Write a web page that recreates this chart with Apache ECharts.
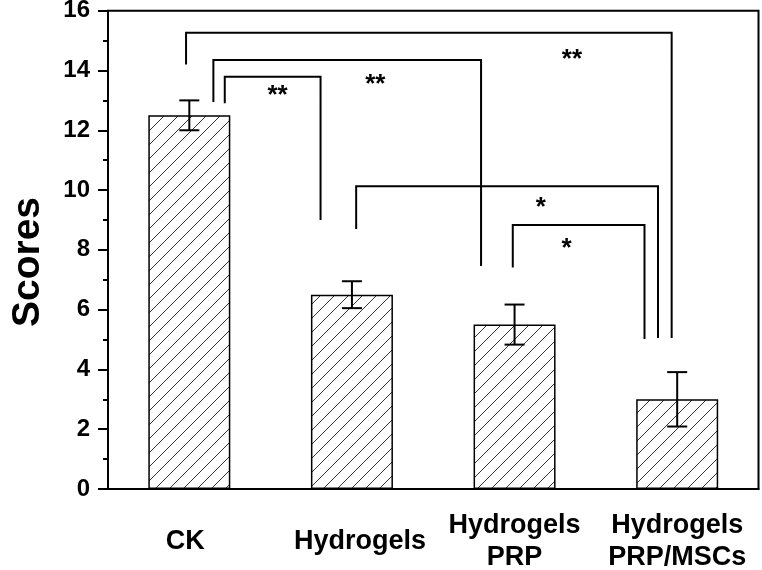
<!DOCTYPE html>
<html>
<head>
<meta charset="utf-8">
<script src="https://cdn.jsdelivr.net/npm/echarts@6/dist/echarts.min.js"></script>
<style>html,body{margin:0;padding:0;background:#fff;}#c{width:762px;height:570px;}</style>
</head>
<body>
<div id="c"></div>
<script>
// ---- data ----
const categories = ['CK', 'Hydrogels', 'Hydrogels\nPRP', 'Hydrogels\nPRP/MSCs'];
const scores = [12.5, 6.5, 5.5, 3.0];
const errors = [0.5, 0.45, 0.67, 0.91];
const yMin = 0, yMax = 16, yStep = 2;
// brackets: [xLeft, xRight, yTop, yLeftEnd, yRightEnd] (x in category index units)
const brackets = [
  [-0.02, 2.966, 15.26, 14.20, 5.05],
  [0.148, 1.794, 14.35, 12.95, 7.46],
  [0.218, 0.807, 13.79, 12.90, 9.00],
  [1.026, 2.882, 10.13, 8.70, 5.05],
  [1.989, 2.799, 8.83, 7.41, 5.02]
];
const sigLabels = ['**', '**', '**', '*', '*'];
const sigPos = [[0.543, 13.34], [1.144, 13.71], [2.353, 14.57], [2.161, 9.61], [2.320, 8.22]];

const FONT = '"Liberation Sans", Arial, Helvetica, sans-serif';

// hatch pattern
function hatch() {
  const s = 14;
  const c = document.createElement('canvas');
  c.width = s; c.height = s;
  const g = c.getContext('2d');
  g.fillStyle = '#fff'; g.fillRect(0, 0, s, s);
  g.strokeStyle = '#333'; g.lineWidth = 1;
  g.beginPath();
  g.moveTo(-2, s + 2); g.lineTo(s + 2, -2);
  g.moveTo(-2 - s, s + 2); g.lineTo(2, -2);
  g.moveTo(s - 2, 2 * s + 2); g.lineTo(2 * s + 2, s - 2);
  g.stroke();
  return c;
}

const chart = echarts.init(document.getElementById('c'), null, {renderer: 'canvas'});

const series = [];
series.push({
  type: 'bar',
  data: scores,
  barWidth: 82,
  xAxisIndex: 0, yAxisIndex: 0,
  itemStyle: {color: {image: hatch(), repeat: 'repeat'}, borderColor: '#000', borderWidth: 1.5},
  silent: true,
  z: 2
});
series.push({
  type: 'custom',
  xAxisIndex: 0, yAxisIndex: 0,
  data: scores.map((v, i) => [i, v - errors[i], v + errors[i]]),
  renderItem: function (params, api) {
    const lo = api.coord([api.value(0), api.value(1)]);
    const hi = api.coord([api.value(0), api.value(2)]);
    const hw = 10;
    const st = {stroke: '#000', lineWidth: 2};
    return {type: 'group', children: [
      {type: 'line', shape: {x1: lo[0], y1: lo[1], x2: hi[0], y2: hi[1]}, style: st},
      {type: 'line', shape: {x1: lo[0] - hw, y1: lo[1], x2: lo[0] + hw, y2: lo[1]}, style: st},
      {type: 'line', shape: {x1: hi[0] - hw, y1: hi[1], x2: hi[0] + hw, y2: hi[1]}, style: st}
    ]};
  },
  z: 5, silent: true
});
brackets.forEach(b => {
  series.push({
    type: 'line',
    xAxisIndex: 1, yAxisIndex: 0,
    data: [[b[0], b[3]], [b[0], b[2]], [b[1], b[2]], [b[1], b[4]]],
    symbol: 'none',
    lineStyle: {color: '#000', width: 2, join: 'miter'},
    silent: true, z: 6
  });
});
series.push({
  type: 'custom',
  xAxisIndex: 1, yAxisIndex: 0,
  data: sigPos.map((p, i) => [p[0], p[1], i]),
  renderItem: function (params, api) {
    const p = api.coord([api.value(0), api.value(1)]);
    const fs = 26;
    return {type: 'text', x: p[0], y: p[1] + fs * 0.23, style: {
      text: sigLabels[api.value(2)], font: 'bold ' + fs + 'px ' + FONT,
      fill: '#000', align: 'center', verticalAlign: 'middle'}};
  },
  z: 7, silent: true
});

const labStyle = {color: '#000', fontFamily: FONT, fontWeight: 'bold', fontSize: 27, lineHeight: 32};
chart.setOption({
  animation: false,
  backgroundColor: '#fff',
  grid: {left: 108, right: 3.5, top: 10.7, bottom: 81, containLabel: false, outerBoundsMode: 'none',
    show: true, borderColor: '#000', borderWidth: 2, backgroundColor: 'transparent'},
  xAxis: [{
    type: 'category',
    data: categories,
    boundaryGap: true,
    axisLine: {onZero: false, lineStyle: {color: '#000', width: 2}},
    axisTick: {alignWithLabel: true, length: 10, lineStyle: {color: '#000', width: 2}},
    axisLabel: {interval: 0, color: '#000', fontFamily: FONT, fontWeight: 'bold', fontSize: 27, lineHeight: 32,
      margin: 53, verticalAlign: 'middle', align: 'center',
      formatter: function (v, i) {
        const key = ['l0', 'l1', 'l2', 'l3'][i];
        return v.split('\n').map(s => '{' + key + '|' + s + '}').join('\n');
      },
      rich: {
        l0: Object.assign({padding: [0, 8, 0, 0]}, labStyle),
        l1: Object.assign({padding: [0, 0, 0, 16]}, labStyle),
        l2: Object.assign({padding: [0, 0, 0, 0]}, labStyle),
        l3: Object.assign({padding: [0, 0, 0, 0]}, labStyle)
      }
    },
    splitLine: {show: false}
  }, {
    type: 'value', min: -0.5, max: 3.5, show: false,
    axisLine: {onZero: false}, splitLine: {show: false}
  }],
  yAxis: {
    type: 'value', min: yMin, max: yMax, interval: yStep,
    position: 'left',
    axisLine: {show: true, onZero: false, lineStyle: {color: '#000', width: 2}},
    axisTick: {show: true, length: 10, lineStyle: {color: '#000', width: 2}},
    minorTick: {show: true, splitNumber: 2, length: 5, lineStyle: {color: '#000', width: 2}},
    axisLabel: {color: '#000', fontFamily: FONT, fontWeight: 'bold', fontSize: 24, margin: 18, padding: [4, 0, 0, 0]},
    splitLine: {show: false}
  },
  graphic: [{
    type: 'text', x: 28, y: 262, rotation: Math.PI / 2,
    style: {text: 'Scores', font: 'bold 39px ' + FONT, fill: '#000', align: 'center', verticalAlign: 'middle'}
  }],
  series: series
});
</script>
</body>
</html>
